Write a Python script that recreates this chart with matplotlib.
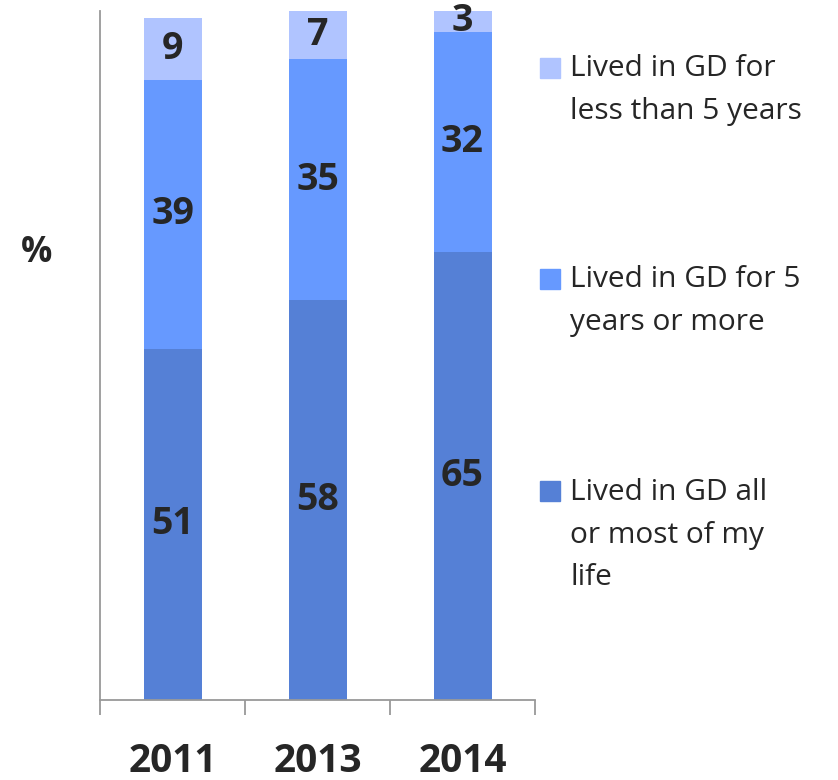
import matplotlib
matplotlib.use("Agg")
import matplotlib.pyplot as plt
from matplotlib.patches import Rectangle

years = ["2011", "2013", "2014"]
all_life = [51, 58, 65]
five_plus = [39, 35, 32]
under_five = [9, 7, 3]

series = [all_life, five_plus, under_five]
labels = ["Lived in GD all\nor most of my\nlife",
          "Lived in GD for 5\nyears or more",
          "Lived in GD for\nless than 5 years"]
colors = ["#5580D6", "#6699FF", "#B0C4FF"]

plt.rcParams["font.family"] = ["Open Sans", "DejaVu Sans"]
txt = "#262626"

fig = plt.figure(figsize=(8.38, 7.8), dpi=100)
ax = fig.add_axes([100 / 838, 80 / 780, 435 / 838, 689 / 780])

x = range(len(years))
bottom = [0, 0, 0]
for vals, col in zip(series, colors):
    ax.bar(x, vals, width=0.4, bottom=bottom, color=col)
    for i, v in enumerate(vals):
        ax.text(i, bottom[i] + v / 2, str(v), ha="center", va="center",
                fontsize=27, fontweight="bold", color=txt)
    bottom = [b + v for b, v in zip(bottom, vals)]

ax.set_xlim(-0.5, 2.5)
ax.set_ylim(0, 100)
ax.set_yticks([])
ax.set_xticks([-0.5, 0.5, 1.5, 2.5])
ax.set_xticklabels([])
ax.tick_params(axis="x", length=11, width=1.3, color="#999999", direction="out")
for s in ["top", "right"]:
    ax.spines[s].set_visible(False)
for s in ["left", "bottom"]:
    ax.spines[s].set_color("#999999")
    ax.spines[s].set_linewidth(1.3)

for i, y in enumerate(years):
    ax.text(i, -8.9, y, ha="center", va="center", fontsize=28,
            fontweight="bold", color=txt, clip_on=False)

fig.text(37 / 838, 1 - 253 / 780, "%", ha="center", va="center",
         fontsize=25, fontweight="bold", color=txt)

# legend, drawn by hand: top entry first
leg_y = [90, 301, 535]
for lab, col, yc in zip(labels[::-1], colors[::-1], leg_y):
    n = lab.count("\n") + 1
    top = yc - (n - 1) * 44 / 2
    fig.patches.append(Rectangle((540 / 838, 1 - (top + 10) / 780), 20 / 838, 20 / 780,
                                 transform=fig.transFigure, color=col))
    fig.text(570 / 838, 1 - yc / 780, lab, ha="left", va="center",
             fontsize=21.5, color=txt, linespacing=1.62)

fig.savefig("out.png", dpi=100)
